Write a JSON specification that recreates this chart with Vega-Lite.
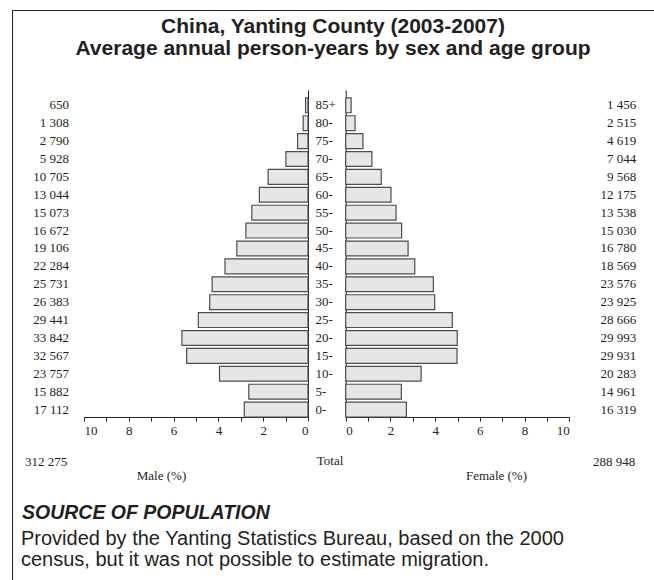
{
  "$schema": "https://vega.github.io/schema/vega-lite/v6.json",
  "width": 642,
  "height": 570,
  "padding": {"left": 12, "top": 10, "right": 0, "bottom": 0},
  "autosize": {"type": "none"},
  "background": "white",
  "title": {
    "text": ["China, Yanting County (2003-2007)", "Average annual person-years by sex and age group"],
    "frame": "group",
    "anchor": "middle",
    "orient": "top",
    "font": "Liberation Sans",
    "fontSize": 21,
    "fontWeight": "bold",
    "color": "#231f20",
    "lineHeight": 21.5,
    "baseline": "top",
    "offset": -48.5
  },
  "config": {
    "view": {"stroke": null},
    "locale": {"number": {"decimal": ".", "thousands": " ", "grouping": [3], "currency": ["", ""]}},
    "axis": {
      "grid": false,
      "domainColor": "#231f20",
      "tickColor": "#231f20",
      "labelColor": "#231f20",
      "titleColor": "#231f20",
      "labelFont": "Liberation Serif",
      "titleFont": "Liberation Serif",
      "labelFontSize": 13,
      "titleFontSize": 13,
      "titleFontWeight": "normal"
    },
    "text": {"font": "Liberation Serif", "fontSize": 13, "color": "#231f20"}
  },
  "datasets": {
    "pyramid": [
      {"age": "85+", "sex": "Male", "persons": 650, "percent": 0.1081},
      {"age": "80-", "sex": "Male", "persons": 1308, "percent": 0.2176},
      {"age": "75-", "sex": "Male", "persons": 2790, "percent": 0.4641},
      {"age": "70-", "sex": "Male", "persons": 5928, "percent": 0.9860},
      {"age": "65-", "sex": "Male", "persons": 10705, "percent": 1.7805},
      {"age": "60-", "sex": "Male", "persons": 13044, "percent": 2.1696},
      {"age": "55-", "sex": "Male", "persons": 15073, "percent": 2.5071},
      {"age": "50-", "sex": "Male", "persons": 16672, "percent": 2.7730},
      {"age": "45-", "sex": "Male", "persons": 19106, "percent": 3.1779},
      {"age": "40-", "sex": "Male", "persons": 22284, "percent": 3.7064},
      {"age": "35-", "sex": "Male", "persons": 25731, "percent": 4.2798},
      {"age": "30-", "sex": "Male", "persons": 26383, "percent": 4.3882},
      {"age": "25-", "sex": "Male", "persons": 29441, "percent": 4.8969},
      {"age": "20-", "sex": "Male", "persons": 33842, "percent": 5.6289},
      {"age": "15-", "sex": "Male", "persons": 32567, "percent": 5.4168},
      {"age": "10-", "sex": "Male", "persons": 23757, "percent": 3.9514},
      {"age": "5-", "sex": "Male", "persons": 15882, "percent": 2.6416},
      {"age": "0-", "sex": "Male", "persons": 17112, "percent": 2.8462},
      {"age": "85+", "sex": "Female", "persons": 1456, "percent": 0.2422},
      {"age": "80-", "sex": "Female", "persons": 2515, "percent": 0.4183},
      {"age": "75-", "sex": "Female", "persons": 4619, "percent": 0.7683},
      {"age": "70-", "sex": "Female", "persons": 7044, "percent": 1.1716},
      {"age": "65-", "sex": "Female", "persons": 9568, "percent": 1.5914},
      {"age": "60-", "sex": "Female", "persons": 12175, "percent": 2.0250},
      {"age": "55-", "sex": "Female", "persons": 13538, "percent": 2.2517},
      {"age": "50-", "sex": "Female", "persons": 15030, "percent": 2.4999},
      {"age": "45-", "sex": "Female", "persons": 16780, "percent": 2.7910},
      {"age": "40-", "sex": "Female", "persons": 18569, "percent": 3.0885},
      {"age": "35-", "sex": "Female", "persons": 23576, "percent": 3.9213},
      {"age": "30-", "sex": "Female", "persons": 23925, "percent": 3.9794},
      {"age": "25-", "sex": "Female", "persons": 28666, "percent": 4.7679},
      {"age": "20-", "sex": "Female", "persons": 29993, "percent": 4.9887},
      {"age": "15-", "sex": "Female", "persons": 29931, "percent": 4.9784},
      {"age": "10-", "sex": "Female", "persons": 20283, "percent": 3.3736},
      {"age": "5-", "sex": "Female", "persons": 14961, "percent": 2.4884},
      {"age": "0-", "sex": "Female", "persons": 16319, "percent": 2.7143}
    ],
    "totals": [
      {"sex": "Male", "persons": 312275},
      {"sex": "Female", "persons": 288948}
    ]
  },
  "resolve": {
    "scale": {"x": "independent", "y": "independent"},
    "axis": {"x": "independent", "y": "independent"}
  },
  "layer": [
    {
      "data": {"values": []},
      "mark": {"type": "point", "opacity": 0},
      "encoding": {
        "x": {"field": "f", "type": "quantitative", "scale": {"domain": [0, 1]},
          "axis": {"orient": "top", "labels": false, "ticks": false, "domain": true, "title": null, "domainWidth": 1}},
        "y": {"field": "g", "type": "quantitative", "scale": {"domain": [0, 1]},
          "axis": {"orient": "left", "labels": false, "ticks": false, "domain": true, "title": null, "domainWidth": 1}}
      }
    },
    {
      "data": {"name": "pyramid"},
      "transform": [{"filter": "datum.sex === 'Male'"}],
      "encoding": {
        "y": {
          "field": "age", "type": "nominal",
          "scale": {"domain": ["85+", "80-", "75-", "70-", "65-", "60-", "55-", "50-", "45-", "40-", "35-", "30-", "25-", "20-", "15-", "10-", "5-", "0-"],
            "range": [80, 407], "paddingInner": 0.17, "paddingOuter": 0.22, "align": 1},
          "axis": {"orient": "right", "offset": -346, "title": null, "ticks": false, "domain": true, "labelAlign": "left", "labelPadding": 7, "labelBaseline": "middle"}
        }
      },
      "layer": [
        {
          "mark": {"type": "bar", "fill": "#e6e6e6", "stroke": "#4d4d4d", "strokeWidth": 1.2},
          "encoding": {
            "x": {"field": "percent", "type": "quantitative",
              "scale": {"domain": [0, 10], "reverse": true, "range": [72, 296], "nice": false, "zero": true},
              "axis": {"orient": "bottom", "offset": -163, "values": [0, 1, 2, 3, 4, 5, 6, 7, 8, 9, 10], "format": "d",
                "labelExpr": "datum.value % 2 === 0 ? datum.label : ''", "tickSize": 4, "labelPadding": 3,
                "title": "Male (%)", "titleX": 149, "titleY": 58, "titleBaseline": "middle", "titleAlign": "center"}
            }
          }
        },
        {
          "mark": {"type": "text", "align": "right", "baseline": "middle", "dx": -15},
          "encoding": {
            "x": {"datum": 10},
            "text": {"field": "persons", "type": "quantitative", "format": ",d"}
          }
        },
        {
          "data": {"name": "totals"},
          "transform": [{"filter": "datum.sex === 'Male'"}],
          "mark": {"type": "text", "align": "left", "baseline": "middle", "dx": -59, "dy": 52},
          "encoding": {
            "x": {"datum": 10},
            "y": {"datum": "0-"},
            "text": {"field": "persons", "type": "quantitative", "format": ",d"}
          }
        },
        {
          "data": {"values": [{"label": "Total"}]},
          "mark": {"type": "text", "align": "center", "baseline": "middle", "dx": 22, "dy": 51},
          "encoding": {
            "x": {"datum": 0},
            "y": {"datum": "0-"},
            "text": {"field": "label", "type": "nominal"}
          }
        },
        {
          "data": {"values": [{"label": "SOURCE OF POPULATION"}]},
          "mark": {"type": "text", "align": "left", "baseline": "middle", "dx": -62, "dy": 103,
            "font": "Liberation Sans", "fontSize": 19.5, "fontWeight": "bold", "fontStyle": "italic", "color": "#231f20"},
          "encoding": {
            "x": {"datum": 10},
            "y": {"datum": "0-"},
            "text": {"field": "label", "type": "nominal"}
          }
        },
        {
          "data": {"values": [{}]},
          "mark": {"type": "text", "align": "left", "baseline": "middle", "dx": -63, "dy": 129,
            "text": ["Provided by the Yanting Statistics Bureau, based on the 2000", "census, but it was not possible to estimate migration."],
            "lineHeight": 21,
            "font": "Liberation Sans", "fontSize": 20, "color": "#231f20"},
          "encoding": {
            "x": {"datum": 10},
            "y": {"datum": "0-"}
          }
        }
      ]
    },
    {
      "data": {"name": "pyramid"},
      "transform": [{"filter": "datum.sex === 'Female'"}],
      "encoding": {
        "y": {
          "field": "age", "type": "nominal",
          "scale": {"domain": ["85+", "80-", "75-", "70-", "65-", "60-", "55-", "50-", "45-", "40-", "35-", "30-", "25-", "20-", "15-", "10-", "5-", "0-"],
            "range": [80, 407], "paddingInner": 0.17, "paddingOuter": 0.22, "align": 1},
          "axis": {"orient": "left", "offset": -333.7, "title": null, "ticks": false, "labels": false, "domain": true}
        }
      },
      "layer": [
        {
          "mark": {"type": "bar", "fill": "#e6e6e6", "stroke": "#4d4d4d", "strokeWidth": 1.2},
          "encoding": {
            "x": {"field": "percent", "type": "quantitative",
              "scale": {"domain": [0, 10], "range": [333.7, 557.3], "nice": false, "zero": true},
              "axis": {"orient": "bottom", "offset": -163, "values": [0, 1, 2, 3, 4, 5, 6, 7, 8, 9, 10], "format": "d",
                "labelExpr": "datum.value % 2 === 0 ? datum.label : ''", "tickSize": 4, "labelPadding": 3,
                "title": "Female (%)", "titleX": 484, "titleY": 58, "titleBaseline": "middle", "titleAlign": "center"}
            }
          }
        },
        {
          "mark": {"type": "text", "align": "right", "baseline": "middle", "dx": 67},
          "encoding": {
            "x": {"datum": 10},
            "text": {"field": "persons", "type": "quantitative", "format": ",d"}
          }
        },
        {
          "data": {"name": "totals"},
          "transform": [{"filter": "datum.sex === 'Female'"}],
          "mark": {"type": "text", "align": "right", "baseline": "middle", "dx": 66, "dy": 52},
          "encoding": {
            "x": {"datum": 10},
            "y": {"datum": "0-"},
            "text": {"field": "persons", "type": "quantitative", "format": ",d"}
          }
        }
      ]
    }
  ]
}
